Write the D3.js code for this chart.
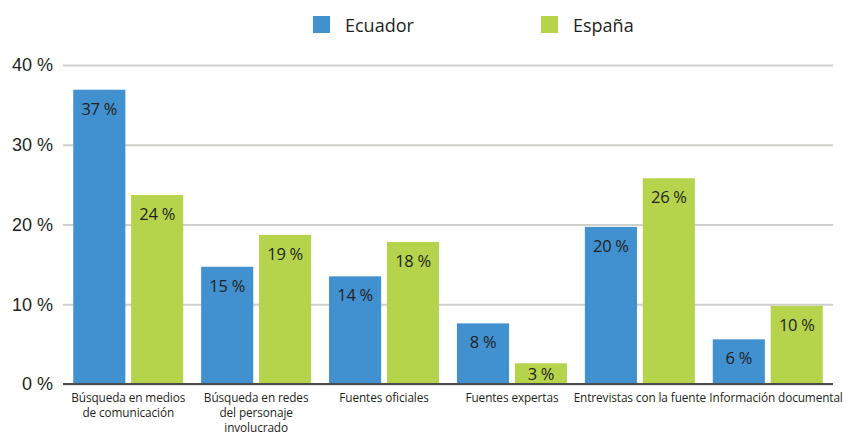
<!DOCTYPE html>
<html>
<head>
<meta charset="utf-8">
<script src="https://cdn.jsdelivr.net/npm/d3@7"></script>
<style>
  body { margin: 0; background: #fff; }
  svg { font-family: "Open Sans", sans-serif; }
</style>
</head>
<body>
<div id="chart"></div>
<script>
const width = 848;
const height = 436;

const categories = [
  "Búsqueda en medios\nde comunicación",
  "Búsqueda en redes\ndel personaje\ninvolucrado",
  "Fuentes oficiales",
  "Fuentes expertas",
  "Entrevistas con la fuente",
  "Información documental"
];
const series = ["Ecuador", "España"];
const ecuador = [36.9, 14.7, 13.5, 7.6, 19.7, 5.6];
const espana = [23.7, 18.7, 17.8, 2.6, 25.8, 9.8];
const yTicks = [0, 10, 20, 30, 40];
const colors = ["#4190cf", "#b5d44b"];

const values = [ecuador, espana];

const svg = d3.select("#chart")
  .append("svg")
  .attr("width", width)
  .attr("height", height);

const x = d3.scaleBand()
  .domain(d3.range(categories.length))
  .range([63, 833])
  .paddingInner(0.14)
  .paddingOuter(0.08);

const xSub = d3.scaleBand()
  .domain(series)
  .range([0, x.bandwidth()])
  .paddingInner(0.1);

const y = d3.scaleLinear()
  .domain([0, 40])
  .range([384, 65]);

// gridlines + y labels
const yAxis = svg.append("g")
  .attr("transform", "translate(63,0)")
  .call(d3.axisLeft(y).tickValues(yTicks).tickSize(-(833 - 63)).tickFormat(d => d + " %"));
yAxis.select(".domain").remove();
yAxis.selectAll(".tick line")
  .attr("stroke", "#cfcfcb")
  .attr("stroke-width", 2);
yAxis.selectAll(".tick text")
  .attr("x", -10)
  .attr("fill", "#231f20")
  .style("font-size", "18px");

// bars
const groups = svg.selectAll(".group")
  .data(categories)
  .enter()
  .append("g")
  .attr("class", "group")
  .attr("transform", (d, i) => `translate(${x(i)},0)`);

groups.selectAll("rect")
  .data((d, i) => series.map((s, j) => ({ s: s, v: values[j][i], j: j })))
  .enter()
  .append("rect")
  .attr("x", d => xSub(d.s))
  .attr("y", d => y(d.v))
  .attr("width", xSub.bandwidth())
  .attr("height", d => y(0) - y(d.v))
  .attr("fill", d => colors[d.j]);

groups.selectAll("text.val")
  .data((d, i) => series.map((s, j) => ({ s: s, v: values[j][i] })))
  .enter()
  .append("text")
  .attr("class", "val")
  .attr("x", d => xSub(d.s) + xSub.bandwidth() / 2)
  .attr("y", d => Math.min(y(d.v) + 25, y(0) - 4))
  .attr("text-anchor", "middle")
  .attr("fill", "#231f20")
  .style("font-size", "16.5px")
  .style("letter-spacing", "-0.3px")
  .text(d => Math.round(d.v) + " %");

// baseline
svg.append("line")
  .attr("x1", 63)
  .attr("x2", 833)
  .attr("y1", y(0))
  .attr("y2", y(0))
  .attr("stroke", "#4d4d4d")
  .attr("stroke-width", 2);

// category labels
const xAxis = svg.append("g");
const catLabels = xAxis.selectAll("text")
  .data(categories)
  .enter()
  .append("text")
  .attr("text-anchor", "middle")
  .attr("fill", "#231f20")
  .style("font-size", "11.8px")
  .style("letter-spacing", "-0.1px");

catLabels.selectAll("tspan")
  .data(d => d.split("\n"))
  .enter()
  .append("tspan")
  .attr("x", 0)
  .attr("dy", (d, i) => i === 0 ? 0 : 15)
  .text(d => d);

// keep labels apart and inside the picture
let prevRight = -Infinity;
catLabels.attr("transform", function (d, i) {
  let cx = x(i) + x.bandwidth() / 2;
  const half = this.getBBox().width / 2;
  if (cx - half < prevRight + 3) cx = prevRight + 3 + half;
  if (cx + half > width - 1) cx = width - 1 - half;
  prevRight = cx + half;
  return `translate(${cx},402)`;
});

// legend
const legendX = [313, 541];
const legend = svg.selectAll(".legend")
  .data(series)
  .enter()
  .append("g")
  .attr("class", "legend")
  .attr("transform", (d, i) => `translate(${legendX[i]},16)`);
legend.append("rect")
  .attr("width", 17)
  .attr("height", 17)
  .attr("fill", (d, i) => colors[i]);
legend.append("text")
  .attr("x", 32)
  .attr("y", 16)
  .attr("fill", "#231f20")
  .style("font-size", "18px")
  .text(d => d);
</script>
</body>
</html>
